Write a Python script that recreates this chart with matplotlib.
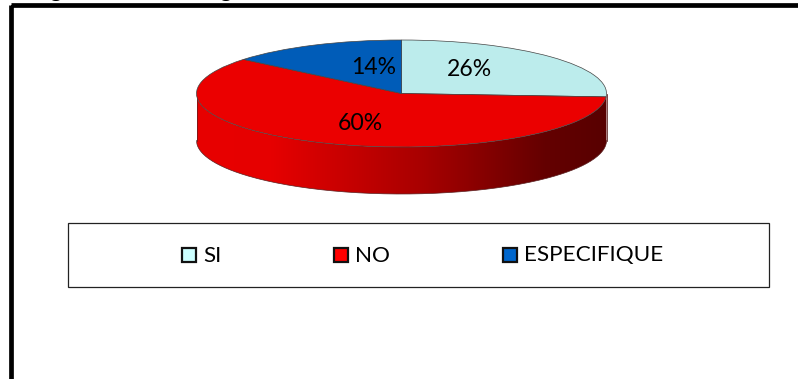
import numpy as np
import matplotlib
matplotlib.use("Agg")
import matplotlib.pyplot as plt
from matplotlib.path import Path
from matplotlib.patches import PathPatch, Rectangle
from matplotlib.colors import LinearSegmentedColormap

categories = ["SI", "NO", "ESPECIFIQUE"]
values = [26, 60, 14]
colors = ["#BCECEC", "#EB0000", "#005CB8"]
legend_colors = ["#CCFFFF", "#FF0000", "#0066CC"]

W, H = 798, 379
plt.rcParams['font.family'] = ['Lato', 'DejaVu Sans']
fig = plt.figure(figsize=(W/100, H/100), dpi=100, facecolor='white')

# full-figure pixel axes
bg = fig.add_axes([0, 0, 1, 1])
bg.set_xlim(0, W); bg.set_ylim(H, 0); bg.axis('off')

# outer frame
bg.add_patch(Rectangle((11, 4.5), W, H, fill=False, ec='black', lw=3.4))

# clipped caption fragments
bg.text(55, -3.2, "g", fontsize=17, ha='center', va='baseline', color='black')
bg.text(225, -3.2, "g", fontsize=17, ha='center', va='baseline', color='black')

cx, cy, rx, ry, depth = 401.5, 93.5, 205, 53.5, 47

# extruded side
t = np.linspace(0, np.pi, 200)
xs = cx + rx*np.cos(t)
ys = cy + ry*np.sin(t)
verts = np.r_[np.c_[xs, ys + depth], np.c_[xs[::-1], ys[::-1]]]
side = PathPatch(Path(verts), fc='none', ec='none')
bg.add_patch(side)
cmap = LinearSegmentedColormap.from_list(
    "side", [(0, "#E80000"), (0.18, "#E60000"), (0.55, "#A80000"),
             (0.85, "#640000"), (1, "#580000")])
im = bg.imshow(np.linspace(0, 1, 256)[None, :], cmap=cmap, aspect='auto',
               extent=(cx-rx, cx+rx, cy+ry+depth, cy-ry), zorder=2)
side.set_zorder(2)
im.set_clip_path(side)
bg.set_xlim(0, W); bg.set_ylim(H, 0)
bg.plot(xs, ys + depth, color='#5a2020', lw=0.5, zorder=3)
bg.plot([cx-rx, cx-rx], [cy, cy+depth], color='#5a2020', lw=0.5, zorder=3)
bg.plot([cx+rx, cx+rx], [cy, cy+depth], color='#400000', lw=0.5, zorder=3)

# pie top, squashed
ax = fig.add_axes([(cx-rx)/W, 1-(cy+ry)/H, 2*rx/W, 2*ry/H], zorder=5)
ax.pie(values, colors=colors, startangle=90, counterclock=False, radius=1,
       wedgeprops=dict(edgecolor='#444444', linewidth=0.5))
ax.set_aspect('auto')
ax.set_xlim(-1, 1); ax.set_ylim(-1, 1)
ax.patch.set_alpha(0)

# percentage labels
overlay = fig.add_axes([0, 0, 1, 1], zorder=6)
overlay.set_xlim(0, W); overlay.set_ylim(H, 0); overlay.axis('off')
label_pos = [(469, 69), (360, 124), (374, 67)]
for v, (x, y) in zip(values, label_pos):
    overlay.text(x, y, f"{v}%", fontsize=16.6, ha='center', va='center', color='black')

# legend box
overlay.add_patch(Rectangle((68, 223), 701, 64, fc='white', ec='#222222', lw=0.9))
swatch_x = [182, 334, 503]
for name, c, x in zip(categories, legend_colors, swatch_x):
    overlay.add_patch(Rectangle((x, 248), 14, 14, fc=c, ec='#111111', lw=1.6))
    overlay.text(x + 21, 255.5, name, fontsize=16.2, ha='left', va='center', color='black')

fig.savefig("out.png", dpi=100)
